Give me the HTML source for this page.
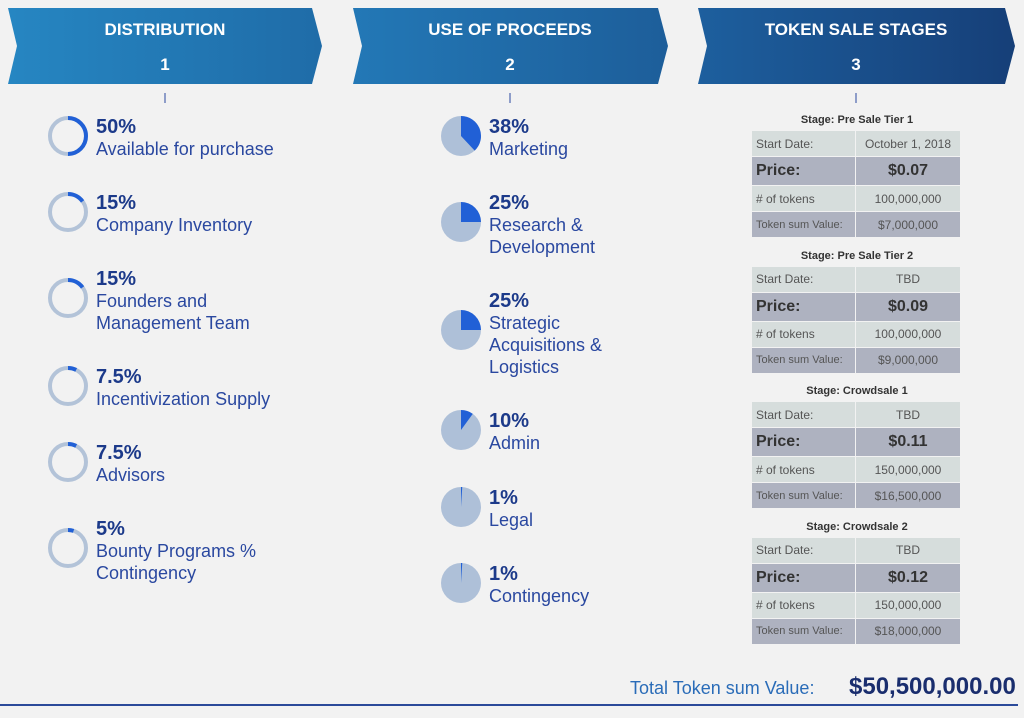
<!DOCTYPE html>
<html><head><meta charset="utf-8"><style>
body{margin:0;width:1024px;height:718px;background:#f2f2f2;font-family:"Liberation Sans",sans-serif;position:relative;overflow:hidden}
.abs{position:absolute}
.pct{font-weight:bold;font-size:20px;color:#1c3a8a;line-height:22px}
.lbl{font-size:18px;color:#2a48a0;line-height:22px}
.item{position:absolute}
.stage-title{position:absolute;width:210px;text-align:center;font-size:11px;font-weight:bold;color:#333}
table{position:absolute;border-collapse:collapse;width:210px;font-size:12px;color:#555}
td{border:1px solid #f2f2f2;padding:0 4px}
td.v{text-align:center;width:96px}
tr.l td{background:#d6dddc}
tr.d td{background:#aeb2c0}
tr.p td{font-size:16px;font-weight:bold;color:#333;height:28px}
</style></head><body>
<svg class="abs" style="left:0;top:0" width="1024" height="110">
<defs>
<linearGradient id="g1" x1="0" x2="1"><stop offset="0" stop-color="#2686c2"/><stop offset="1" stop-color="#1f6ca8"/></linearGradient>
<linearGradient id="g2" x1="0" x2="1"><stop offset="0" stop-color="#2378b6"/><stop offset="1" stop-color="#1d5e9a"/></linearGradient>
<linearGradient id="g3" x1="0" x2="1"><stop offset="0" stop-color="#1d5f9e"/><stop offset="1" stop-color="#163f78"/></linearGradient>
</defs>
<polygon points="8,8 312,8 322,46 312,84 8,84 17,46" fill="url(#g1)"/>
<polygon points="353,8 658,8 668,46 658,84 353,84 362,46" fill="url(#g2)"/>
<polygon points="698,8 1005,8 1015,46 1005,84 698,84 707,46" fill="url(#g3)"/>
<g font-family="Liberation Sans" font-weight="bold" fill="#fff" text-anchor="middle" font-size="17">
<text x="165" y="35">DISTRIBUTION</text>
<text x="165" y="70">1</text>
<text x="510" y="35">USE OF PROCEEDS</text>
<text x="510" y="70">2</text>
<text x="856" y="35">TOKEN SALE STAGES</text>
<text x="856" y="70">3</text>
</g>
<line x1="165" y1="93" x2="165" y2="103" stroke="#2a48a0"/>
<line x1="510" y1="93" x2="510" y2="103" stroke="#2a48a0"/>
<line x1="856" y1="93" x2="856" y2="103" stroke="#2a48a0"/>
</svg>
<svg id="charts" class="abs" style="left:0;top:0" width="1024" height="718"></svg>
<div id="content"></div>
<div class="abs" style="left:630px;top:678px;font-size:18px;color:#2a6cb8">Total Token sum Value:</div>
<div class="abs" style="left:849px;top:673px;font-size:24px;font-weight:bold;color:#1a2e6e">$50,500,000.00</div>
<div class="abs" style="left:0;top:704px;width:1018px;height:2px;background:#2b4a9a"></div>
<script>
const distPct=[50,15,15,7.5,7.5,5];
const distLabels=["Available for purchase","Company Inventory","Founders and<br>Management Team","Incentivization Supply","Advisors","Bounty Programs %<br>Contingency"];
const distTextY=[116,192,268,366,442,518];
const procPct=[38,25,25,10,1,1];
const procLabels=["Marketing","Research &amp;<br>Development","Strategic<br>Acquisitions &amp;<br>Logistics","Admin","Legal","Contingency"];
const procTextY=[116,192,290,410,487,563];
const stageNames=["Pre Sale Tier 1","Pre Sale Tier 2","Crowdsale 1","Crowdsale 2"];
const stageDates=["October 1, 2018","TBD","TBD","TBD"];
const stagePrices=["$0.07","$0.09","$0.11","$0.12"];
const stageTokens=["100,000,000","100,000,000","150,000,000","150,000,000"];
const stageSums=["$7,000,000","$9,000,000","$16,500,000","$18,000,000"];

const NS="http://www.w3.org/2000/svg";
const svg=document.getElementById('charts');
const content=document.getElementById('content');
function pctLabel(p){return p+'%';}
function arcPath(cx,cy,r,p){
  const a=p/100*2*Math.PI;
  const x=cx+r*Math.sin(a),y=cy-r*Math.cos(a);
  return {x,y,large:p>50?1:0};
}
distPct.forEach((p,i)=>{
  const cy=distTextY[i]+20+(distLabels[i].includes('<br>')?10:0), cx=68, r=18;
  const c=document.createElementNS(NS,'circle');
  c.setAttribute('cx',cx);c.setAttribute('cy',cy);c.setAttribute('r',r);
  c.setAttribute('fill','none');c.setAttribute('stroke','#b3c3d8');c.setAttribute('stroke-width','4');
  
  
  svg.appendChild(c);
  const e=arcPath(cx,cy,r,p);
  const a=document.createElementNS(NS,'path');
  a.setAttribute('d',`M${cx},${cy-r} A${r},${r} 0 ${e.large} 1 ${e.x},${e.y}`);
  a.setAttribute('fill','none');a.setAttribute('stroke','#2160d6');a.setAttribute('stroke-width','4');
  
  
  svg.appendChild(a);
  const d=document.createElement('div');d.className='item';
  d.style.left='96px';d.style.top=distTextY[i]+'px';
  d.innerHTML=`<div class="pct">${pctLabel(p)}</div><div class="lbl">${distLabels[i]}</div>`;
  
  
  content.appendChild(d);
});
procPct.forEach((p,i)=>{
  const nl=(procLabels[i].match(/<br>/g)||[]).length;
  const cy=procTextY[i]+20+nl*10, cx=461, r=20;
  const c=document.createElementNS(NS,'circle');
  c.setAttribute('cx',cx);c.setAttribute('cy',cy);c.setAttribute('r',r);c.setAttribute('fill','#aec0d8');
  
  
  svg.appendChild(c);
  const e=arcPath(cx,cy,r,p);
  const s=document.createElementNS(NS,'path');
  s.setAttribute('d',`M${cx},${cy} L${cx},${cy-r} A${r},${r} 0 ${e.large} 1 ${e.x},${e.y} Z`);
  s.setAttribute('fill','#2160d6');
  
  
  svg.appendChild(s);
  const d=document.createElement('div');d.className='item';
  d.style.left='489px';d.style.top=procTextY[i]+'px';
  d.innerHTML=`<div class="pct">${pctLabel(p)}</div><div class="lbl">${procLabels[i]}</div>`;
  
  
  content.appendChild(d);
});
stageNames.forEach((n,i)=>{
  const top=114+i*135.5;
  const t=document.createElement('div');t.className='stage-title';
  t.style.left='752px';t.style.top=top+'px';t.textContent='Stage: '+n;
  
  
  content.appendChild(t);
  const tb=document.createElement('table');
  tb.style.left='751px';tb.style.top=(top+16)+'px';
  tb.innerHTML=`<tr class="l" style="height:26px"><td>Start Date:</td><td class="v">${stageDates[i]}</td></tr>
<tr class="d p"><td>Price:</td><td class="v">${stagePrices[i]}</td></tr>
<tr class="l" style="height:26px"><td>#&nbsp;of tokens</td><td class="v">${stageTokens[i]}</td></tr>
<tr class="d" style="height:26px"><td style="font-size:11px">Token sum Value:</td><td class="v">${stageSums[i]}</td></tr>`;
  
  
  content.appendChild(tb);
});
</script>
</body></html>
